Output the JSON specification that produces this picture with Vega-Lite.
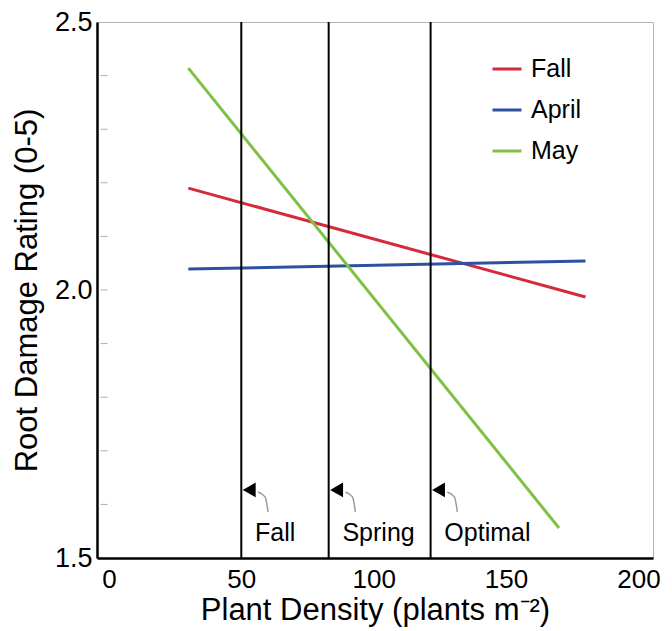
{
  "$schema": "https://vega.github.io/schema/vega-lite/v6.json",
  "autosize": "none",
  "width": 556,
  "height": 536,
  "padding": {"left": 97, "top": 22, "right": 19, "bottom": 73},
  "background": "white",
  "config": {
    "font": "Liberation Sans",
    "view": {"stroke": "#b5b5b5", "strokeWidth": 1}
  },
  "datasets": {
    "lines": [
      {"series": "Fall", "x": 30, "y": 2.19},
      {"series": "Fall", "x": 180, "y": 1.987},
      {"series": "April", "x": 30, "y": 2.039},
      {"series": "April", "x": 180, "y": 2.054},
      {"series": "May", "x": 30, "y": 2.414},
      {"series": "May", "x": 170, "y": 1.556}
    ],
    "refs": [
      {"x": 50, "label": "Fall", "lx": 55.2, "ly": 1.547, "ax": 53, "ay": 1.627},
      {"x": 83, "label": "Spring", "lx": 88.2, "ly": 1.547, "ax": 86, "ay": 1.627},
      {"x": 121.5, "label": "Optimal", "lx": 126.7, "ly": 1.547, "ax": 124.5, "ay": 1.627}
    ],
    "tails": [
      {"g": "Fall", "x": 56.3, "y": 1.623},
      {"g": "Fall", "x": 59.0, "y": 1.614},
      {"g": "Fall", "x": 60.1, "y": 1.586},
      {"g": "Spring", "x": 89.3, "y": 1.623},
      {"g": "Spring", "x": 92.0, "y": 1.614},
      {"g": "Spring", "x": 93.1, "y": 1.586},
      {"g": "Optimal", "x": 127.8, "y": 1.623},
      {"g": "Optimal", "x": 130.5, "y": 1.614},
      {"g": "Optimal", "x": 131.6, "y": 1.586}
    ],
    "yticks": [
      {"tx": -1.85, "ty": 1.6},
      {"tx": -1.85, "ty": 1.7},
      {"tx": -1.85, "ty": 1.8},
      {"tx": -1.85, "ty": 1.9},
      {"tx": -1.85, "ty": 2.0},
      {"tx": -1.85, "ty": 2.1},
      {"tx": -1.85, "ty": 2.2},
      {"tx": -1.85, "ty": 2.3},
      {"tx": -1.85, "ty": 2.4}
    ]
  },
  "layer": [
    {
      "data": {"name": "lines"},
      "mark": {"type": "line", "strokeWidth": 3},
      "encoding": {
        "x": {
          "field": "x", "type": "quantitative",
          "scale": {"domain": [-4.5, 205.5], "nice": false, "zero": false},
          "axis": {
            "title": "Plant Density (plants m⁻²)",
            "titleFontSize": 31, "titleFontWeight": "normal", "titleColor": "black",
            "titlePadding": 3,
            "values": [0, 50, 100, 150, 200],
            "labelFontSize": 26, "labelColor": "black", "labelPadding": 8,
            "ticks": false, "grid": false,
            "domainColor": "black", "domainWidth": 2.5,
            "labelFlush": false
          }
        },
        "y": {
          "field": "y", "type": "quantitative",
          "scale": {"domain": [1.5, 2.5], "nice": false, "zero": false},
          "axis": {
            "title": "Root Damage Rating (0-5)",
            "titleFontSize": 31, "titleFontWeight": "normal", "titleColor": "black",
            "titlePadding": 11,
            "values": [1.5, 2.0, 2.5],
            "format": ".1f",
            "labelFontSize": 27, "labelColor": "black", "labelPadding": 5,
            "ticks": false,
            "grid": false,
            "domainColor": "black", "domainWidth": 2.5,
            "labelFlush": false
          }
        },
        "color": {
          "field": "series", "type": "nominal",
          "scale": {"domain": ["Fall", "April", "May"], "range": ["#d42a3a", "#2f4f9f", "#7fc144"]},
          "legend": {
            "title": null,
            "orient": "none",
            "legendX": 394,
            "legendY": 31,
            "symbolType": "stroke",
            "symbolSize": 841,
            "symbolStrokeWidth": 3,
            "labelFontSize": 25,
            "labelColor": "black",
            "labelOffset": 8,
            "rowPadding": 12
          }
        },
        "detail": {"field": "series"}
      }
    },
    {
      "data": {"name": "yticks"},
      "mark": {"type": "tick", "orient": "horizontal", "color": "#8a8a8a", "thickness": 1, "size": 7},
      "encoding": {
        "x": {"field": "tx", "type": "quantitative"},
        "y": {"field": "ty", "type": "quantitative"}
      }
    },
    {
      "data": {"name": "refs"},
      "mark": {"type": "rule", "color": "black", "strokeWidth": 2},
      "encoding": {
        "x": {"field": "x", "type": "quantitative"}
      }
    },
    {
      "data": {"name": "tails"},
      "mark": {"type": "line", "color": "#9a9a9a", "strokeWidth": 1.5, "interpolate": "monotone"},
      "encoding": {
        "x": {"field": "x", "type": "quantitative"},
        "y": {"field": "y", "type": "quantitative"},
        "detail": {"field": "g"}
      }
    },
    {
      "data": {"name": "refs"},
      "mark": {"type": "point", "shape": "triangle-left", "filled": true, "color": "black", "opacity": 1, "size": 220},
      "encoding": {
        "x": {"field": "ax", "type": "quantitative"},
        "y": {"field": "ay", "type": "quantitative"}
      }
    },
    {
      "data": {"name": "refs"},
      "mark": {"type": "text", "align": "left", "baseline": "middle", "fontSize": 25, "color": "black"},
      "encoding": {
        "x": {"field": "lx", "type": "quantitative"},
        "y": {"field": "ly", "type": "quantitative"},
        "text": {"field": "label"}
      }
    }
  ]
}
